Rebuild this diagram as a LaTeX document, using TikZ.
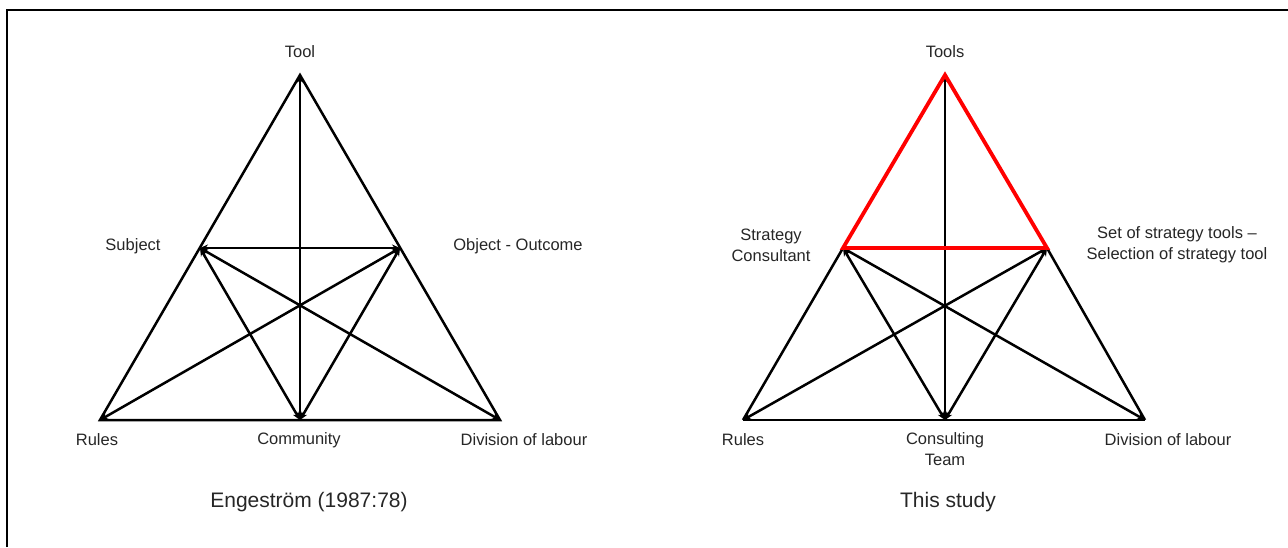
\documentclass[tikz,border=0pt]{standalone}
\usepackage{fontspec}
\setmainfont{Liberation Sans}
\usetikzlibrary{arrows.meta}
\begin{document}
\begin{tikzpicture}[x=1pt,y=-1pt,
  edge/.style={line width=2.5pt,black},
  biarrow/.style={edge,{Stealth[length=8pt,width=7pt]}-{Stealth[length=8pt,width=7pt]}},
  redside/.style={line width=3.8pt,red,line join=miter},
  lbl/.style={font=\fontsize{16.5}{21}\selectfont,text=black!85,inner sep=0pt,align=center},
  caption/.style={font=\fontsize{21}{25}\selectfont,text=black!85,inner sep=0pt}]
\useasboundingbox (0,0) rectangle (1288,547);
% frame
\draw[line width=2.4pt] (7,547) -- (7,10) -- (1288,10);

% ---------- Engestrom's triangle ----------
\coordinate (tool) at (300,75);
\coordinate (subj) at (200,248);
\coordinate (obj) at (400,248);
\coordinate (rules) at (100,420);
\coordinate (comm) at (300,420);
\coordinate (div) at (500,420);

\draw[edge,line join=miter] (rules) -- (tool) -- (div) -- cycle;
\draw[biarrow] (comm) -- (tool);
\draw[biarrow] (subj) -- (obj);
\draw[biarrow] (subj) -- (comm);
\draw[biarrow] (subj) -- (div);
\draw[biarrow] (obj) -- (rules);
\draw[biarrow] (obj) -- (comm);

\node[lbl] (ltool) at (300,52) {Tool};
\node[lbl] (lsubj) at (133,246) {Subject};
\node[lbl] (lobj) at (518,246) {Object - Outcome};
\node[lbl] (lrules) at (97,440) {Rules};
\node[lbl] (lcomm) at (299,440) {Community};
\node[lbl] (ldiv) at (524,440) {Division of labour};
\node[caption] (capA) at (309,502) {Engeström (1987:78)};

% ---------- triangle of this study ----------
\coordinate (tools) at (945,75);
\coordinate (cons) at (843,248);
\coordinate (set) at (1047,248);
\coordinate (rules2) at (743,420);
\coordinate (team) at (945,420);
\coordinate (div2) at (1145,420);

\draw[edge] (rules2) -- (cons);
\draw[edge] (set) -- (div2);
\draw[edge] (rules2) -- (div2);
\draw[biarrow] (team) -- (tools);
\draw[biarrow] (cons) -- (team);
\draw[biarrow] (cons) -- (div2);
\draw[biarrow] (set) -- (rules2);
\draw[biarrow] (set) -- (team);
\draw[redside] (tools) -- (set) -- (cons) -- cycle;

\node[lbl] (ltools) at (945,52) {Tools};
\node[lbl] (lcons) at (771,245) {Strategy\\Consultant};
\node[lbl] (lset) at (1177,245) {Set of strategy tools –\\Selection of strategy tool};
\node[lbl] (lrules2) at (743,440) {Rules};
\node[lbl,anchor=north] (lteam) at (945,432) {Consulting\\Team};
\node[lbl] (ldiv2) at (1168,440) {Division of labour};
\node[caption] (capB) at (948,502) {This study};
\end{tikzpicture}
\end{document}
